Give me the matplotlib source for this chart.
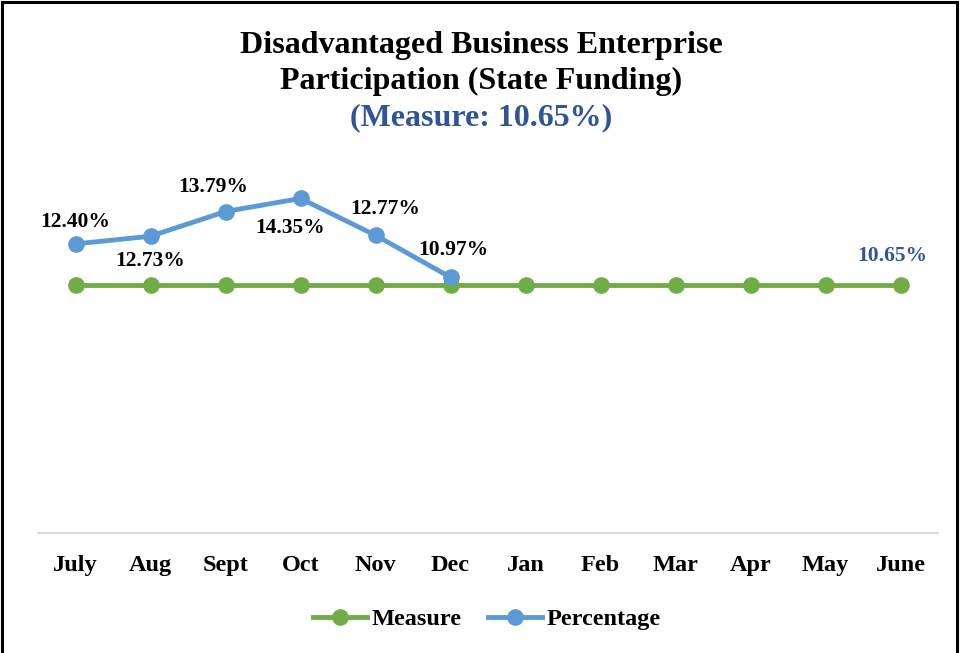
import matplotlib.pyplot as plt
from matplotlib.patches import Rectangle

months = ["July", "Aug", "Sept", "Oct", "Nov", "Dec", "Jan", "Feb", "Mar", "Apr", "May", "June"]
measure = [10.65] * 12
percentage = [12.40, 12.73, 13.79, 14.35, 12.77, 10.97]
# label offsets in pixels (dx, dy) for the percentage labels
pct_offsets = [(0, 22), (0, -25), (-12, 25), (-10, -30), (10, 26), (3, 27)]

GREEN = "#70AD47"
BLUE = "#5B9BD5"
DARKBLUE = "#2F5597"

plt.rcParams['font.family'] = ['Liberation Serif', 'DejaVu Serif']
plt.rcParams['font.weight'] = 'bold'

W, H = 963, 653
fig = plt.figure(figsize=(W / 100, H / 100), dpi=100)
ax = fig.add_axes([38 / W, 120 / H, 900 / W, 373 / H])

x = list(range(len(months)))
ax.plot(x, measure, color=GREEN, lw=3.5, marker='o', ms=11, label="Measure", zorder=2)
ax.plot(x[:len(percentage)], percentage, color=BLUE, lw=3.5, marker='o', ms=11,
        label="Percentage", zorder=3)

for i, v in enumerate(percentage):
    dx, dy = pct_offsets[i]
    ax.annotate(f"{v:.2f}%", (i, v), xytext=(dx * 0.72, dy * 0.72), textcoords='offset points',
                ha='center', va='center', fontsize=15.5, fontweight='bold', color='black')
ax.annotate(f"{measure[-1]:.2f}%", (len(months) - 1, measure[-1]), xytext=(-8 * 0.72, 29 * 0.72),
            textcoords='offset points', ha='center', va='center', fontsize=15.5,
            fontweight='bold', color=DARKBLUE)

ax.set_xlim(-0.5, len(months) - 0.5)
ax.set_ylim(0, 16)
ax.set_xticks(x)
ax.set_xticklabels(months, fontsize=17.5, fontweight='bold')
ax.set_yticks([])
ax.tick_params(axis='x', length=0, pad=15.5)
for s in ['top', 'right', 'left']:
    ax.spines[s].set_visible(False)
ax.spines['bottom'].set_color('#D9D9D9')
ax.spines['bottom'].set_linewidth(1.5)

fig.text(0.5, 1 - 46 / H, "Disadvantaged Business Enterprise", ha='center', va='center',
         fontsize=23, fontweight='bold')
fig.text(0.5, 1 - 81 / H, "Participation (State Funding)", ha='center', va='center',
         fontsize=23, fontweight='bold')
fig.text(0.5, 1 - 118 / H, "(Measure: 10.65%)", ha='center', va='center',
         fontsize=23, fontweight='bold', color=DARKBLUE)

fig.legend(loc='center', bbox_to_anchor=(487 / W, 1 - 619 / H), ncol=2, frameon=False,
           prop={'size': 17.5, 'weight': 'bold'}, handlelength=2.2, handletextpad=0.2,
           columnspacing=1.1)

fig.patches.append(Rectangle((2 / W, -0.02), 955 / W, 1.02 - 2.5 / H, transform=fig.transFigure,
                             fill=False, edgecolor='black', lw=2.2))

fig.savefig("out.png", dpi=100)
